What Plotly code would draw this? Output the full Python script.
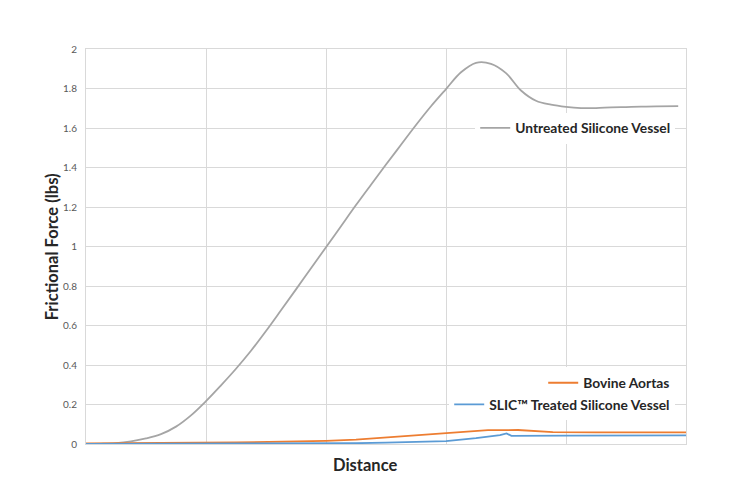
import plotly.graph_objects as go

# Untreated Silicone Vessel
untreated_x = [0, 2.5, 5, 7.5, 10, 12.5, 15, 17.5, 20, 22.5, 25, 27.5, 30, 32.5, 35, 37.5,
               40, 42.5, 45, 47.5, 50, 52.5, 55, 57.5, 60, 62.5, 65, 67.5, 70, 72.5, 75,
               77.5, 80, 82.5, 85, 87.5, 90, 92.5, 95, 98.7]
untreated_y = [0, 0.001, 0.004, 0.013, 0.028, 0.05, 0.088, 0.145, 0.217, 0.297, 0.381,
               0.472, 0.572, 0.677, 0.783, 0.89, 0.996, 1.103, 1.21, 1.313, 1.415, 1.515,
               1.615, 1.71, 1.797, 1.882, 1.93, 1.925, 1.878, 1.79, 1.738, 1.718, 1.707,
               1.701, 1.701, 1.704, 1.706, 1.708, 1.709, 1.711]

# Bovine Aortas
bovine_x = [0, 12, 12.5, 25, 30, 40, 45, 50, 55, 60, 63, 67, 72, 75, 77.8, 85, 100]
bovine_y = [0.003, 0.003, 0.006, 0.008, 0.01, 0.016, 0.022, 0.033, 0.045, 0.054,
            0.062, 0.07, 0.071, 0.066, 0.06, 0.059, 0.059]

# SLIC Treated Silicone Vessel
slic_x = [0, 40, 45, 50, 55, 60, 65, 69, 70.1, 70.9, 80, 88, 95, 100]
slic_y = [0, 0.002, 0.004, 0.007, 0.01, 0.015, 0.03, 0.045, 0.054, 0.041, 0.042,
          0.044, 0.046, 0.044]

y_ticks = [0, 0.2, 0.4, 0.6, 0.8, 1, 1.2, 1.4, 1.6, 1.8, 2]
y_tick_labels = ["0", "0.2", "0.4", "0.6", "0.8", "1", "1.2", "1.4", "1.6", "1.8", "2"]
x_grid = [0, 20, 40, 60, 80, 100]

GRID = "#D9D9D9"
FONT = "Lato"

fig = go.Figure()
fig.add_trace(go.Scatter(x=untreated_x, y=untreated_y, mode="lines",
                         name="Untreated Silicone Vessel",
                         line=dict(color="#A5A5A5", width=1.8, shape="spline", smoothing=1),
                         legend="legend"))
fig.add_trace(go.Scatter(x=bovine_x, y=bovine_y, mode="lines", name="Bovine Aortas",
                         line=dict(color="#ED7D31", width=1.8), legend="legend2"))
fig.add_trace(go.Scatter(x=slic_x, y=slic_y, mode="lines",
                         name="SLIC™ Treated Silicone Vessel",
                         line=dict(color="#5B9BD5", width=1.8), legend="legend3"))

legend_font = dict(family=FONT, size=13.8, color="#262626", weight="bold")
common_legend = dict(font=legend_font, bgcolor="white", xanchor="right", yanchor="middle",
                     itemwidth=30, tracegroupgap=0, borderwidth=0)

fig.update_layout(
    width=750, height=500,
    margin=dict(l=78, r=72, t=41, b=64),
    paper_bgcolor="white", plot_bgcolor="white",
    showlegend=True,
    legend=dict(x=0.982, y=0.80, **common_legend),
    legend2=dict(x=0.982, y=0.155, **common_legend),
    legend3=dict(x=0.982, y=0.10, **common_legend),
    xaxis=dict(range=[0, 100], tickvals=x_grid, showticklabels=False, showgrid=True,
               gridcolor=GRID, gridwidth=1, showline=True, linecolor=GRID, mirror=True,
               zeroline=False, ticks=""),
    yaxis=dict(range=[0, 2], tickvals=y_ticks, ticktext=y_tick_labels, showgrid=True,
               gridcolor=GRID, gridwidth=1, showline=True, linecolor=GRID, mirror=True,
               zeroline=False, ticks="", ticklabelstandoff=6,
               tickfont=dict(family=FONT, size=10, color="#595959")),
    annotations=[
        dict(text="Frictional Force (lbs)", xref="paper", yref="paper",
             x=-0.057, y=0.5, textangle=-90, showarrow=False,
             xanchor="center", yanchor="middle",
             font=dict(family=FONT, size=16.5, color="#262626", weight="bold")),
        dict(text="Distance", xref="paper", yref="paper",
             x=0.465, y=-0.053, showarrow=False, xanchor="center", yanchor="middle",
             font=dict(family=FONT, size=16.5, color="#262626", weight="bold")),
    ],
)

fig.write_html("out.html")
